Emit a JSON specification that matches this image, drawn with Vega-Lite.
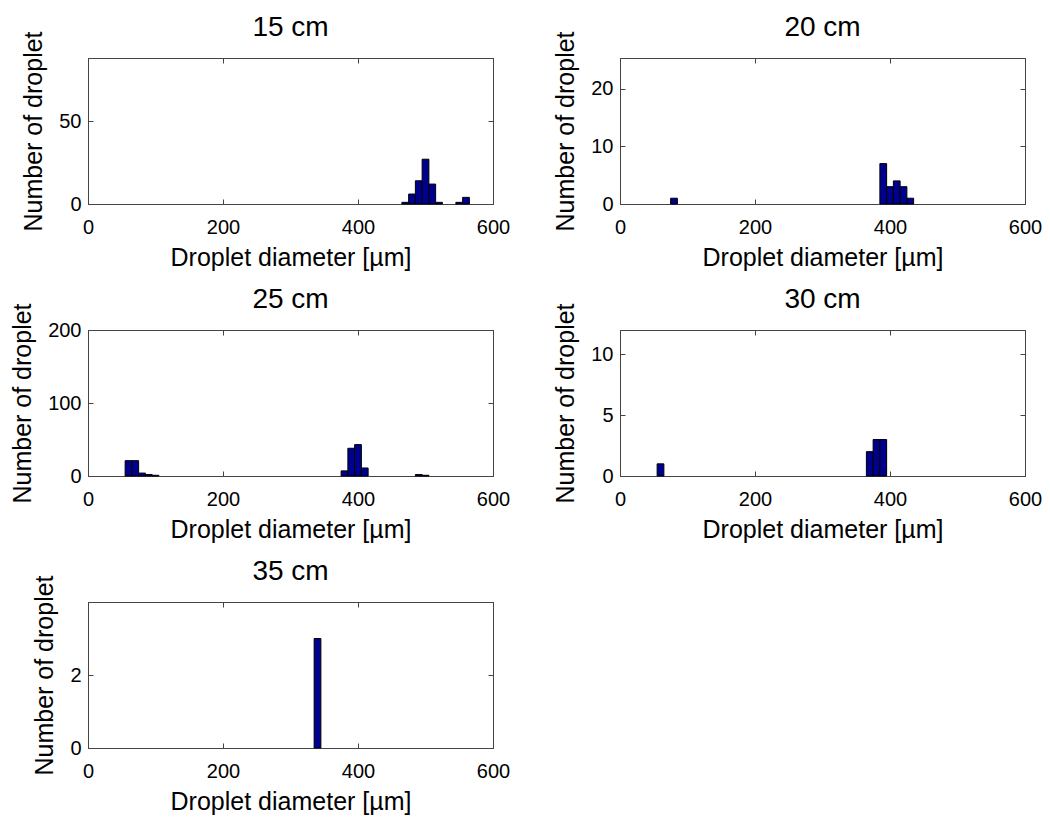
{
  "$schema": "https://vega.github.io/schema/vega-lite/v6.json",
  "padding": {"left": 10, "top": 13, "right": 5, "bottom": 0},
  "background": "white",
  "datasets": {
    "d15": [
      {"lo": 465, "hi": 475, "n": 1}, {"lo": 475, "hi": 485, "n": 6}, {"lo": 485, "hi": 495, "n": 14},
      {"lo": 495, "hi": 505, "n": 27}, {"lo": 505, "hi": 515, "n": 12}, {"lo": 515, "hi": 525, "n": 1},
      {"lo": 545, "hi": 555, "n": 1}, {"lo": 555, "hi": 565, "n": 4}
    ],
    "d20": [
      {"lo": 75, "hi": 85, "n": 1}, {"lo": 385, "hi": 395, "n": 7}, {"lo": 395, "hi": 405, "n": 3},
      {"lo": 405, "hi": 415, "n": 4}, {"lo": 415, "hi": 425, "n": 3}, {"lo": 425, "hi": 435, "n": 1}
    ],
    "d25": [
      {"lo": 55, "hi": 65, "n": 21}, {"lo": 65, "hi": 75, "n": 21}, {"lo": 75, "hi": 85, "n": 4},
      {"lo": 85, "hi": 95, "n": 2}, {"lo": 95, "hi": 105, "n": 1},
      {"lo": 375, "hi": 385, "n": 7}, {"lo": 385, "hi": 395, "n": 38}, {"lo": 395, "hi": 405, "n": 43},
      {"lo": 405, "hi": 415, "n": 11}, {"lo": 485, "hi": 495, "n": 2}, {"lo": 495, "hi": 505, "n": 1}
    ],
    "d30": [
      {"lo": 55, "hi": 65, "n": 1}, {"lo": 365, "hi": 375, "n": 2}, {"lo": 375, "hi": 385, "n": 3},
      {"lo": 385, "hi": 395, "n": 3}
    ],
    "d35": [
      {"lo": 335, "hi": 345, "n": 3}
    ]
  },
  "columns": 2,
  "spacing": {"row": 14, "column": 42},
  "concat": [
    {
      "title": "15 cm", "width": 405, "height": 146, "data": {"name": "d15"},
      "layer": [
        {"mark": {"type": "bar", "fill": "#00008F", "stroke": "#000000", "strokeWidth": 1},
         "encoding": {
           "x": {"field": "lo", "type": "quantitative", "scale": {"domain": [0, 600], "nice": false}, "axis": {"orient": "bottom", "values": [0, 200, 400, 600], "title": "Droplet diameter [µm]"}},
           "x2": {"field": "hi"},
           "y": {"field": "n", "type": "quantitative", "scale": {"domain": [0, 88], "nice": false}, "axis": {"orient": "left", "values": [0, 50], "title": "Number of droplet"}},
           "y2": {"datum": 0}
         }},
        {"mark": {"type": "bar", "opacity": 0},
         "encoding": {
           "x": {"field": "lo", "type": "quantitative", "axis": {"orient": "top", "values": [0, 200, 400, 600], "labels": false, "title": null, "labelPadding": 0}},
           "x2": {"field": "hi"},
           "y": {"field": "n", "type": "quantitative", "axis": {"orient": "right", "values": [0, 50], "labels": false, "title": null, "labelPadding": 0}},
           "y2": {"datum": 0}
         }}
      ],
      "resolve": {"axis": {"x": "independent", "y": "independent"}}
    },
    {
      "title": "20 cm", "width": 405, "height": 146, "data": {"name": "d20"},
      "layer": [
        {"mark": {"type": "bar", "fill": "#00008F", "stroke": "#000000", "strokeWidth": 1},
         "encoding": {
           "x": {"field": "lo", "type": "quantitative", "scale": {"domain": [0, 600], "nice": false}, "axis": {"orient": "bottom", "values": [0, 200, 400, 600], "title": "Droplet diameter [µm]"}},
           "x2": {"field": "hi"},
           "y": {"field": "n", "type": "quantitative", "scale": {"domain": [0, 25.3], "nice": false}, "axis": {"orient": "left", "values": [0, 10, 20], "title": "Number of droplet"}},
           "y2": {"datum": 0}
         }},
        {"mark": {"type": "bar", "opacity": 0},
         "encoding": {
           "x": {"field": "lo", "type": "quantitative", "axis": {"orient": "top", "values": [0, 200, 400, 600], "labels": false, "title": null, "labelPadding": 0}},
           "x2": {"field": "hi"},
           "y": {"field": "n", "type": "quantitative", "axis": {"orient": "right", "values": [0, 10, 20], "labels": false, "title": null, "labelPadding": 0}},
           "y2": {"datum": 0}
         }}
      ],
      "resolve": {"axis": {"x": "independent", "y": "independent"}}
    },
    {
      "title": "25 cm", "width": 405, "height": 146, "data": {"name": "d25"},
      "layer": [
        {"mark": {"type": "bar", "fill": "#00008F", "stroke": "#000000", "strokeWidth": 1},
         "encoding": {
           "x": {"field": "lo", "type": "quantitative", "scale": {"domain": [0, 600], "nice": false}, "axis": {"orient": "bottom", "values": [0, 200, 400, 600], "title": "Droplet diameter [µm]"}},
           "x2": {"field": "hi"},
           "y": {"field": "n", "type": "quantitative", "scale": {"domain": [0, 200], "nice": false}, "axis": {"orient": "left", "values": [0, 100, 200], "title": "Number of droplet"}},
           "y2": {"datum": 0}
         }},
        {"mark": {"type": "bar", "opacity": 0},
         "encoding": {
           "x": {"field": "lo", "type": "quantitative", "axis": {"orient": "top", "values": [0, 200, 400, 600], "labels": false, "title": null, "labelPadding": 0}},
           "x2": {"field": "hi"},
           "y": {"field": "n", "type": "quantitative", "axis": {"orient": "right", "values": [0, 100, 200], "labels": false, "title": null, "labelPadding": 0}},
           "y2": {"datum": 0}
         }}
      ],
      "resolve": {"axis": {"x": "independent", "y": "independent"}}
    },
    {
      "title": "30 cm", "width": 405, "height": 146, "data": {"name": "d30"},
      "layer": [
        {"mark": {"type": "bar", "fill": "#00008F", "stroke": "#000000", "strokeWidth": 1},
         "encoding": {
           "x": {"field": "lo", "type": "quantitative", "scale": {"domain": [0, 600], "nice": false}, "axis": {"orient": "bottom", "values": [0, 200, 400, 600], "title": "Droplet diameter [µm]"}},
           "x2": {"field": "hi"},
           "y": {"field": "n", "type": "quantitative", "scale": {"domain": [0, 12], "nice": false}, "axis": {"orient": "left", "values": [0, 5, 10], "title": "Number of droplet"}},
           "y2": {"datum": 0}
         }},
        {"mark": {"type": "bar", "opacity": 0},
         "encoding": {
           "x": {"field": "lo", "type": "quantitative", "axis": {"orient": "top", "values": [0, 200, 400, 600], "labels": false, "title": null, "labelPadding": 0}},
           "x2": {"field": "hi"},
           "y": {"field": "n", "type": "quantitative", "axis": {"orient": "right", "values": [0, 5, 10], "labels": false, "title": null, "labelPadding": 0}},
           "y2": {"datum": 0}
         }}
      ],
      "resolve": {"axis": {"x": "independent", "y": "independent"}}
    },
    {
      "title": "35 cm", "width": 405, "height": 146, "data": {"name": "d35"},
      "layer": [
        {"mark": {"type": "bar", "fill": "#00008F", "stroke": "#000000", "strokeWidth": 1},
         "encoding": {
           "x": {"field": "lo", "type": "quantitative", "scale": {"domain": [0, 600], "nice": false}, "axis": {"orient": "bottom", "values": [0, 200, 400, 600], "title": "Droplet diameter [µm]"}},
           "x2": {"field": "hi"},
           "y": {"field": "n", "type": "quantitative", "scale": {"domain": [0, 4], "nice": false}, "axis": {"orient": "left", "values": [0, 2], "title": "Number of droplet"}},
           "y2": {"datum": 0}
         }},
        {"mark": {"type": "bar", "opacity": 0},
         "encoding": {
           "x": {"field": "lo", "type": "quantitative", "axis": {"orient": "top", "values": [0, 200, 400, 600], "labels": false, "title": null, "labelPadding": 0}},
           "x2": {"field": "hi"},
           "y": {"field": "n", "type": "quantitative", "axis": {"orient": "right", "values": [0, 2], "labels": false, "title": null, "labelPadding": 0}},
           "y2": {"datum": 0}
         }}
      ],
      "resolve": {"axis": {"x": "independent", "y": "independent"}}
    }
  ],
  "config": {
    "font": "Liberation Sans",
    "view": {"stroke": "#444444", "strokeWidth": 1},
    "title": {"fontSize": 28, "fontWeight": "normal", "color": "#000000", "offset": -11},
    "axis": {
      "grid": false,
      "labelFontSize": 20,
      "titleFontSize": 25,
      "titleFontWeight": "normal",
      "labelColor": "#000000",
      "titleColor": "#000000",
      "domainColor": "#444444",
      "tickColor": "#444444",
      "tickSize": -5,
      "labelPadding": 12,
      "titlePadding": 8,
      "labelFlush": false,
      "labelOverlap": false
    },
    "axisBottom": {"labelPadding": 18},
    "axisLeft": {"titlePadding": 12}
  }
}
